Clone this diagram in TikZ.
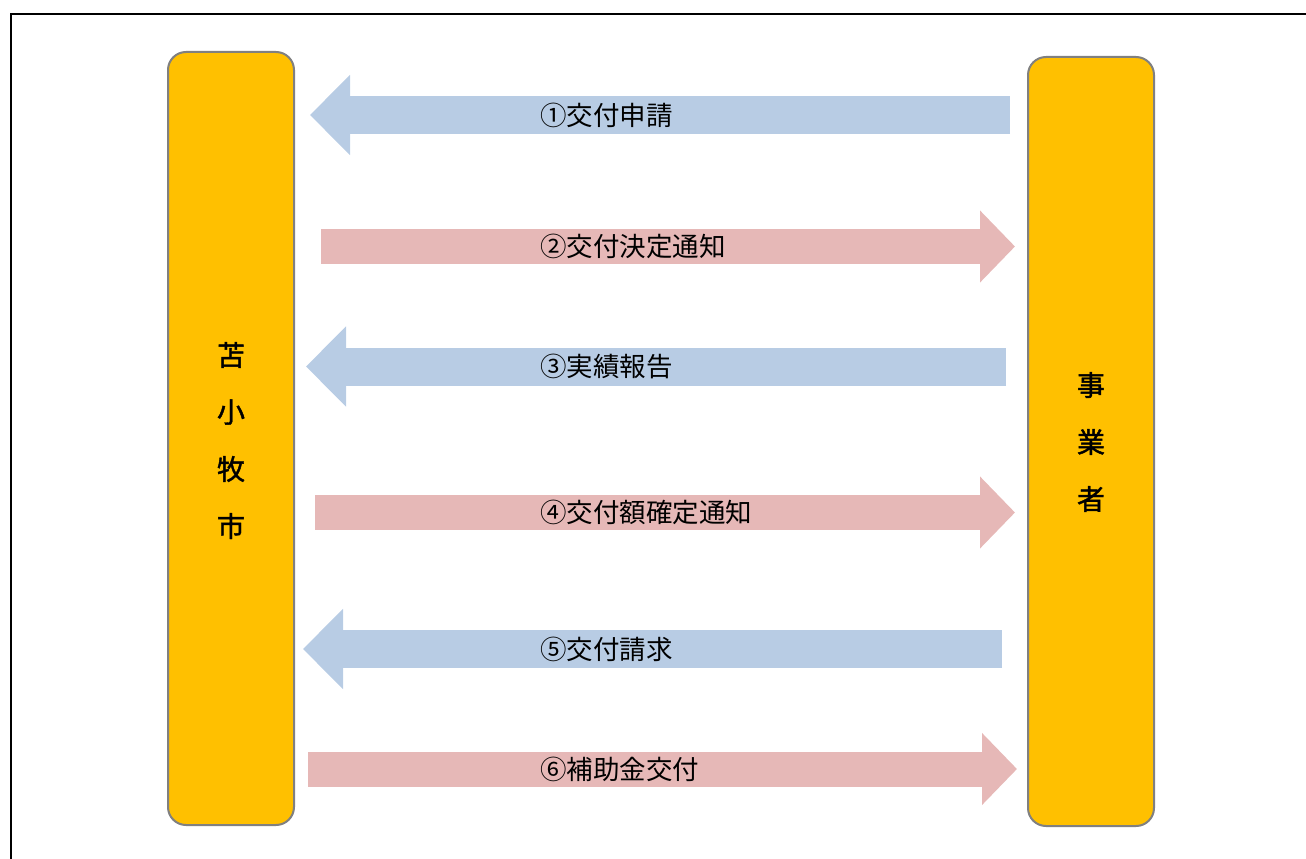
\documentclass[tikz,border=0pt]{standalone}
\usepackage{fontspec}
\newfontfamily\jp{Noto Sans CJK JP}
\newfontfamily\jpm[FakeBold=1.5]{Noto Sans CJK JP}
\usetikzlibrary{arrows.meta}
\definecolor{boxfill}{HTML}{FFC000}
\definecolor{boxline}{HTML}{808080}
\definecolor{bluearrow}{HTML}{B8CCE4}
\definecolor{pinkarrow}{HTML}{E6B8B7}
\tikzset{
  party/.style={draw=boxline, line width=2pt, fill=boxfill, rounded corners=18pt, minimum width=126pt, inner sep=0pt},
  toleft/.style={draw=bluearrow, line width=38pt, -{Triangle[length=40pt,width=78pt]}},
  toright/.style={draw=pinkarrow, line width=35pt, -{Triangle[length=35pt,width=70pt]}},
  lbl/.style={anchor=west, font=\jp\fontsize{26.5pt}{26.5pt}\selectfont, inner sep=0pt},
  vert/.style={font=\jpm\fontsize{28pt}{28pt}\selectfont, inner sep=0pt}
}
\begin{document}
\begin{tikzpicture}[x=1pt,y=-1pt]
\useasboundingbox (0,0) rectangle (1306,859);
\clip (0,0) rectangle (1306,859);
\draw[line width=2pt] (11,880) -- (11,14) -- (1330,14);
% parties
\node[party, minimum height=773pt] (L) at (231,438.5) {};
\node[party, minimum height=769pt] (R) at (1091,441.5) {};
\node[vert] (l1) at (231,355) {苫};
\node[vert] (l2) at (231,412) {小};
\node[vert] (l3) at (231,469) {牧};
\node[vert] (l4) at (231,526) {市};
\node[vert] (r1) at (1091,385) {事};
\node[vert] (r2) at (1091,442) {業};
\node[vert] (r3) at (1091,499) {者};
% arrow ends
\coordinate (a1s) at (1010,115); \coordinate (a1e) at (310,115);
\coordinate (a2s) at (321,246.5); \coordinate (a2e) at (1015,246.5);
\coordinate (a3s) at (1006,366.5); \coordinate (a3e) at (306,366.5);
\coordinate (a4s) at (315,512.5); \coordinate (a4e) at (1015,512.5);
\coordinate (a5s) at (1002,649); \coordinate (a5e) at (303,649);
\coordinate (a6s) at (308,769); \coordinate (a6e) at (1017,769);
\draw[toleft] (a1s) -- (a1e);
\draw[toright] (a2s) -- (a2e);
\draw[toleft] (a3s) -- (a3e);
\draw[toright] (a4s) -- (a4e);
\draw[toleft] (a5s) -- (a5e);
\draw[toright] (a6s) -- (a6e);
\node[lbl] (t1) at (540,115) {①交付申請};
\node[lbl] (t2) at (540,246.5) {②交付決定通知};
\node[lbl] (t3) at (540,366.5) {③実績報告};
\node[lbl] (t4) at (540,512.5) {④交付額確定通知};
\node[lbl] (t5) at (540,649) {⑤交付請求};
\node[lbl] (t6) at (540,769) {⑥補助金交付};
\end{tikzpicture}
\end{document}
